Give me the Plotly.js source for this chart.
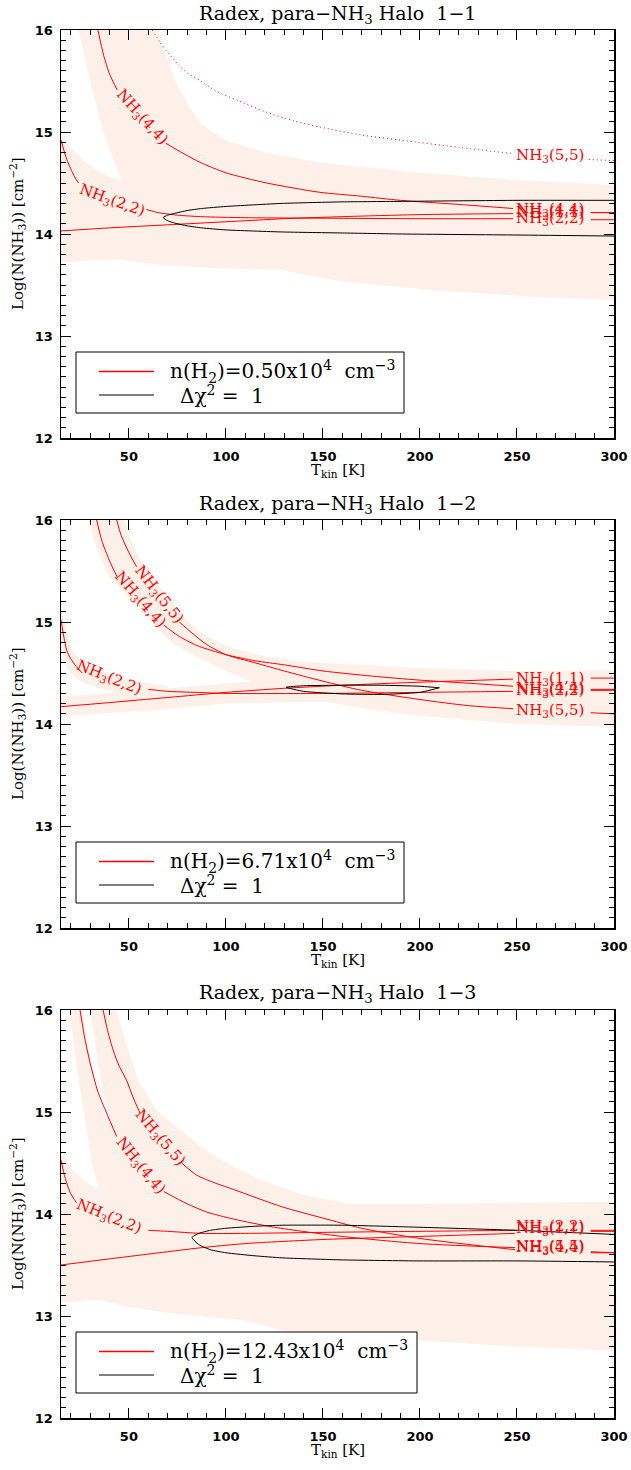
<!DOCTYPE html>
<html><head><meta charset="utf-8">
<script src="https://cdn.plot.ly/plotly-3.0.1.min.js"></script>
<style>html,body{margin:0;padding:0;background:#fff}</style>
</head><body><div id="chart" style="width:631px;height:1470px"></div>
<script>
// ---------------- data ----------------
const panelNames = ['1\u22121', '1\u22122', '1\u22123'];
const densities = ['0.50', '6.71', '12.43'];

// Panel 1 (n = 0.50e4)
const p1_11_T = [15, 40, 70, 100, 130, 160, 200, 248, null, 288, 300];
const p1_11_V = [14.03, 14.06, 14.09, 14.12, 14.15, 14.17, 14.19, 14.20, null, 14.21, 14.21];
const p1_22_T = [15, 16.5, 18, 20, 22, 24, null, 59, 65, 75, 87, 110, 150, 200, 248, null, 288, 300];
const p1_22_V = [14.92, 14.82, 14.73, 14.64, 14.56, 14.5, null, 14.24, 14.21, 14.185, 14.17, 14.16, 14.155, 14.15, 14.15, null, 14.14, 14.14];
const p1_44_T = [34, 37, 40, 44, null, 69, 78, 87, 100, 121, 148, 170, 190, 220, 248, null, 288, 300];
const p1_44_V = [16.0, 15.75, 15.57, 15.41, null, 14.89, 14.79, 14.70, 14.6, 14.5, 14.41, 14.37, 14.33, 14.29, 14.25, null, 14.21, 14.21];
const p1_55_T = [62, 66, 70, 75, 80, 87, 95, 106, 120, 135, 148, 170, 190, 220, 247, null, 287, 300];
const p1_55_V = [16.0, 15.88, 15.78, 15.67, 15.58, 15.5, 15.4, 15.31, 15.2, 15.11, 15.05, 14.97, 14.92, 14.85, 14.79, null, 14.73, 14.72];
const p1_chiT  = [67.6, 70, 73, 80, 87.5, 100, 129, 160, 191, 250, 300];
const p1_chiHi = [14.16, 14.185, 14.2, 14.23, 14.25, 14.27, 14.30, 14.315, 14.32, 14.33, 14.33];
const p1_chiLo = [14.16, 14.13, 14.11, 14.08, 14.06, 14.04, 14.02, 14.01, 14.0, 13.99, 13.98];
const p1_bandA_T = [24, 65, 69, 74, 80, 87, 100, 120, 148, 200, 250, 300, 300, 100, 70, 55, 46.4, 42, 36, 30];
const p1_bandA_V = [16, 16, 15.75, 15.5, 15.28, 15.08, 14.92, 14.8, 14.7, 14.6, 14.53, 14.48, 14.1, 14.1, 14.2, 14.35, 14.53, 14.72, 15.05, 15.5];
const p1_bandB_T = [15, 20, 25, 30, 35, 40, 46.4, 60, 100, 150, 300, 300, 254, 212, 162, 140, 128, 100, 70, 55, 45, 30, 15];
const p1_bandB_V = [14.97, 14.84, 14.75, 14.67, 14.61, 14.56, 14.53, 14.46, 14.4, 14.36, 14.32, 13.35, 13.39, 13.44, 13.53, 13.6, 13.65, 13.66, 13.69, 13.72, 13.75, 13.74, 13.72];
const p1_labelText  = ['(4,4)', '(2,2)', '(5,5)', '(4,4)', '(1,1)', '(2,2)'];
const p1_labelT     = [56.5, 41.5, 267, 267, 267, 267];
const p1_labelV     = [15.15, 14.33, 14.77, 14.24, 14.21, 14.155];
const p1_labelAngle = [48, 20, 0, 0, 0, 0];

// Panel 2 (n = 6.71e4)
const p2_11_T = [15, 40, 70, 100, 130, 160, 200, 248, null, 288, 300];
const p2_11_V = [14.17, 14.21, 14.26, 14.31, 14.35, 14.38, 14.41, 14.44, null, 14.45, 14.45];
const p2_22_T = [15, 16.5, 18, 20, 23, 26, null, 60, 70, 85, 100, 150, 200, 248, null, 288, 300];
const p2_22_V = [15.02, 14.85, 14.72, 14.64, 14.56, 14.5, null, 14.34, 14.32, 14.31, 14.30, 14.30, 14.31, 14.32, null, 14.33, 14.33];
const p2_44_T = [33.4, 36, 40, 44, null, 68, 75, 85, 100, 115, 130, 150, 175, 200, 225, 248, null, 288, 300];
const p2_44_V = [16.0, 15.8, 15.6, 15.44, null, 14.97, 14.87, 14.77, 14.68, 14.62, 14.58, 14.52, 14.47, 14.43, 14.40, 14.37, null, 14.34, 14.34];
const p2_55_T = [43.7, 46, 50, 54, null, 76, 82, 90, 100, 115, 130, 150, 170, 200, 225, 248, null, 288, 300];
const p2_55_V = [16.0, 15.85, 15.68, 15.54, null, 15.0, 14.9, 14.78, 14.68, 14.6, 14.52, 14.42, 14.33, 14.24, 14.18, 14.15, null, 14.11, 14.10];
const p2_chiT  = [131, 140, 160, 180, 200, 210];
const p2_chiHi = [14.36, 14.375, 14.38, 14.38, 14.37, 14.355];
const p2_chiLo = [14.36, 14.32, 14.295, 14.29, 14.31, 14.355];
const p2_bandA_T = [29.5, 47.7, 50, 54, 58, 69, 80, 86, 94, 104, 120, 138, 200, 250, 300, 300, 250, 200, 175, 150, 130, 114, 100, 85, 72, 64, 55, 47, 40, 36, 32];
const p2_bandA_V = [16, 16, 15.85, 15.68, 15.54, 15.27, 15.02, 14.92, 14.82, 14.74, 14.66, 14.61, 14.55, 14.52, 14.51, 13.97, 14.0, 14.08, 14.14, 14.22, 14.3, 14.41, 14.52, 14.66, 14.8, 14.95, 15.15, 15.3, 15.44, 15.6, 15.8];
const p2_bandB_T = [15, 60, 100, 150, 200, 250, 300, 300, 250, 200, 150, 100, 60, 15];
const p2_bandB_V = [14.27, 14.33, 14.4, 14.46, 14.5, 14.52, 14.53, 14.24, 14.24, 14.23, 14.22, 14.2, 14.13, 14.08];
const p2_bandC_T = [15, 16.8, 18.5, 21, 25, 30, 40, 50, 60, 70, 70, 50, 35, 25, 20, 17, 15];
const p2_bandC_V = [15.12, 15.0, 14.85, 14.72, 14.62, 14.55, 14.49, 14.44, 14.4, 14.37, 14.25, 14.28, 14.35, 14.42, 14.5, 14.62, 14.88];
const p2_labelText  = ['(2,2)', '(4,4)', '(5,5)', '(1,1)', '(4,4)', '(2,2)', '(5,5)'];
const p2_labelT     = [39.7, 55.7, 65.5, 267, 267, 267, 267];
const p2_labelV     = [14.46, 15.22, 15.27, 14.45, 14.35, 14.33, 14.13];
const p2_labelAngle = [22, 49, 52, 0, 0, 0, 0];

// Panel 3 (n = 12.43e4)
const p3_11_T = [15, 40, 70, 87.5, 110, 150, 200, 249, null, 288, 300];
const p3_11_V = [13.5, 13.56, 13.63, 13.67, 13.71, 13.75, 13.78, 13.81, null, 13.83, 13.83];
const p3_22_T = [15, 16.5, 18, 20, 23, null, 60, 70, 87.5, 110, 150, 200, 249, null, 288, 300];
const p3_22_V = [14.53, 14.4, 14.3, 14.2, 14.11, null, 13.84, 13.83, 13.81, 13.81, 13.82, 13.83, 13.84, null, 13.84, 13.84];
const p3_44_T = [24.8, 27, 30, 34, 38.5, 43.7, null, 68, 80, 90, 104, 125, 160, 200, 249, null, 288, 300];
const p3_44_V = [16.0, 15.75, 15.48, 15.2, 14.99, 14.76, null, 14.22, 14.1, 14.02, 13.95, 13.87, 13.78, 13.71, 13.67, null, 13.63, 13.62];
const p3_55_T = [36.7, 39, 42, 45, 48.8, 52, 55.7, null, 77.2, 85, 95, 104, 129, 150, 170, 200, 249, null, 288, 300];
const p3_55_V = [16.0, 15.8, 15.6, 15.45, 15.31, 15.15, 14.99, null, 14.5, 14.38, 14.3, 14.24, 14.07, 13.96, 13.86, 13.76, 13.65, null, 13.62, 13.62];
const p3_chiT  = [82.5, 86, 92, 100, 115, 129, 160, 200, 250, 300];
const p3_chiHi = [13.77, 13.81, 13.84, 13.86, 13.88, 13.89, 13.89, 13.87, 13.84, 13.80];
const p3_chiLo = [13.77, 13.7, 13.65, 13.62, 13.59, 13.57, 13.55, 13.54, 13.54, 13.53];
const p3_bandA_T = [19.6, 26, 28.5, 33, 38, 45, 55, 70, 100, 150, 150, 100, 45, 34.5, 31, 28, 25, 22];
const p3_bandA_V = [16, 16, 15.7, 15.25, 14.95, 14.7, 14.45, 14.2, 14.0, 13.9, 13.7, 13.75, 14.0, 14.24, 14.5, 14.85, 15.2, 15.6];
const p3_bandB_T = [30, 43.7, 48, 55, 65, 78, 90, 104, 120, 138, 150, 164, 200, 250, 300, 300, 250, 191, 160, 129, 108, 75, 52, 33.5, 15, 15, 20, 27, 34.5, 40, 36, 33];
const p3_bandB_V = [16, 16, 15.7, 15.3, 15.0, 14.8, 14.62, 14.46, 14.32, 14.2, 14.15, 14.1, 14.1, 14.11, 14.12, 12.66, 12.7, 12.77, 12.8, 12.86, 12.96, 13.02, 13.08, 13.16, 13.13, 14.62, 14.45, 14.32, 14.24, 14.95, 15.25, 15.6];
const p3_labelText  = ['(2,2)', '(4,4)', '(5,5)', '(2,2)', '(1,1)', '(5,5)', '(4,4)'];
const p3_labelT     = [39.7, 56.1, 66, 267, 267, 267, 267];
const p3_labelV     = [13.98, 14.48, 14.75, 13.875, 13.86, 13.68, 13.67];
const p3_labelAngle = [22, 51, 50, 0, 0, 0, 0];

const xTickVals = [50, 100, 150, 200, 250, 300];
const yTickVals = [12, 13, 14, 15, 16];

// ---------------- styling / layout ----------------
const FILL = '#fdf0e8';
const RED = 'rgb(255,0,0)';
const SERIF = 'DejaVu Serif, serif';
const W = 631, H = 1470;
const ML = 61, MR = 17, MT = 30, MB = 52;
const panelTopPx = [30, 520, 1010];
const panelHpx = 408;
const plotH = H - MT - MB;
const legendRightPx = [404, 404, 417];

const panels = [
  {lines: [[p1_11_T, p1_11_V, 'solid'], [p1_22_T, p1_22_V, 'solid'], [p1_44_T, p1_44_V, 'solid'], [p1_55_T, p1_55_V, '1px,3px']],
   chi: [p1_chiT, p1_chiHi, p1_chiLo, false], bands: [[p1_bandA_T, p1_bandA_V], [p1_bandB_T, p1_bandB_V]],
   labels: [p1_labelText, p1_labelT, p1_labelV, p1_labelAngle]},
  {lines: [[p2_11_T, p2_11_V, 'solid'], [p2_22_T, p2_22_V, 'solid'], [p2_44_T, p2_44_V, 'solid'], [p2_55_T, p2_55_V, 'solid']],
   chi: [p2_chiT, p2_chiHi, p2_chiLo, true], bands: [[p2_bandA_T, p2_bandA_V], [p2_bandB_T, p2_bandB_V], [p2_bandC_T, p2_bandC_V]],
   labels: [p2_labelText, p2_labelT, p2_labelV, p2_labelAngle]},
  {lines: [[p3_11_T, p3_11_V, 'solid'], [p3_22_T, p3_22_V, 'solid'], [p3_44_T, p3_44_V, 'solid'], [p3_55_T, p3_55_V, 'solid']],
   chi: [p3_chiT, p3_chiHi, p3_chiLo, false], bands: [[p3_bandA_T, p3_bandA_V], [p3_bandB_T, p3_bandB_V]],
   labels: [p3_labelText, p3_labelT, p3_labelV, p3_labelAngle]}
];

const traces = [];
const annotations = [];
const shapes = [];
const layout = {
  width: W, height: H, margin: {l: ML, r: MR, t: MT, b: MB},
  paper_bgcolor: '#fff', plot_bgcolor: '#fff', showlegend: false, hovermode: false
};

panels.forEach((p, i) => {
  const sfx = i === 0 ? '' : String(i + 1);
  const xa = 'x' + sfx, ya = 'y' + sfx;
  const xd = xa + ' domain', yd = ya + ' domain';
  const top = panelTopPx[i], bot = top + panelHpx;
  const axCommon = {
    showline: true, linecolor: '#000', linewidth: 1.5, mirror: 'ticks',
    ticks: 'inside', ticklen: 10, tickwidth: 1, tickcolor: '#000',
    showgrid: false, zeroline: false, fixedrange: true,
    tickfont: {family: 'DejaVu Sans, sans-serif', size: 13, color: '#000', weight: 700}
  };
  layout['xaxis' + sfx] = Object.assign({}, axCommon, {
    domain: [0, 1], anchor: ya, range: [15, 300], tickmode: 'array', tickvals: xTickVals,
    ticktext: xTickVals.map(String), ticklabelstandoff: 6,
    minor: {dtick: 10, tick0: 0, ticks: 'inside', ticklen: 5, tickcolor: '#000', tickwidth: 1, showgrid: false}
  });
  layout['yaxis' + sfx] = Object.assign({}, axCommon, {
    domain: [(H - MB - bot) / plotH, (H - MB - top) / plotH], anchor: xa, range: [12, 16],
    tickmode: 'array', tickvals: yTickVals, ticktext: yTickVals.map(String), ticklabelstandoff: 4,
    minor: {dtick: 0.1, tick0: 0, ticks: 'inside', ticklen: 5, tickcolor: '#000', tickwidth: 1, showgrid: false}
  });

  // shaded bands
  p.bands.forEach(b => {
    traces.push({type: 'scatter', mode: 'lines', x: b[0].concat([b[0][0]]), y: b[1].concat([b[1][0]]),
      fill: 'toself', fillcolor: FILL, line: {width: 0, color: FILL}, xaxis: xa, yaxis: ya, hoverinfo: 'skip'});
  });
  // model lines
  p.lines.forEach(l => {
    traces.push({type: 'scatter', mode: 'lines', x: l[0], y: l[1], connectgaps: false,
      line: {color: RED, width: 1, dash: l[2], shape: 'spline', smoothing: 0.7}, xaxis: xa, yaxis: ya});
  });
  // delta chi^2 = 1 contour
  const [cT, cHi, cLo, closed] = p.chi;
  let cx, cy;
  if (closed) {
    cx = cT.concat(cT.slice().reverse());
    cy = cHi.concat(cLo.slice().reverse());
  } else {
    cx = cT.slice().reverse().concat(cT.slice(1));
    cy = cHi.slice().reverse().concat(cLo.slice(1));
  }
  traces.push({type: 'scatter', mode: 'lines', x: cx, y: cy,
    line: {color: '#000', width: 1, shape: 'spline', smoothing: 0.5}, xaxis: xa, yaxis: ya});

  // line labels
  const [lt, lT, lV, lA] = p.labels;
  lt.forEach((t, k) => {
    annotations.push({xref: xa, yref: ya, x: lT[k], y: lV[k], text: 'NH<sub>3</sub>' + t, showarrow: false,
      textangle: lA[k], xanchor: 'center', yanchor: 'middle',
      font: {family: SERIF, size: 15, color: RED}});
  });

  // panel title
  annotations.push({xref: xd, yref: yd, x: 0.5, y: 1, yshift: 16, xanchor: 'center', yanchor: 'middle',
    showarrow: false, text: 'Radex, para\u2212NH<sub>3</sub> Halo\u00a0 ' + panelNames[i],
    font: {family: SERIF, size: 19, color: '#000'}});
  // axis titles
  annotations.push({xref: xd, yref: yd, x: 0, xshift: -44, y: 0.5, textangle: -90, xanchor: 'center', yanchor: 'middle',
    showarrow: false, text: 'Log(N(NH<sub>3</sub>)) [cm<sup>\u22122</sup>]',
    font: {family: SERIF, size: 15, color: '#000'}});
  annotations.push({xref: xd, yref: yd, x: 0.5, y: 0, yshift: -32, xanchor: 'center', yanchor: 'middle',
    showarrow: false, text: 'T<sub>kin</sub> [K]', font: {family: SERIF, size: 15, color: '#000'}});

  // legend box (drawn)
  const fx = px => (px - ML) / 553;
  const fy = py => (bot - (py + 490 * i)) / panelHpx;
  shapes.push({type: 'rect', xref: xd, yref: yd, x0: fx(76), x1: fx(legendRightPx[i]), y0: fy(352), y1: fy(413),
    line: {color: '#000', width: 1}, fillcolor: '#fff', layer: 'above'});
  shapes.push({type: 'line', xref: xd, yref: yd, x0: fx(99), x1: fx(154), y0: fy(371.5), y1: fy(371.5),
    line: {color: RED, width: 1.5}, layer: 'above'});
  shapes.push({type: 'line', xref: xd, yref: yd, x0: fx(99), x1: fx(154), y0: fy(395), y1: fy(395),
    line: {color: '#000', width: 1}, layer: 'above'});
  annotations.push({xref: xd, yref: yd, x: fx(168), y: fy(371.5), xanchor: 'left', yanchor: 'middle', showarrow: false,
    text: 'n(H<sub>2</sub>)=' + densities[i] + 'x10<sup>4</sup>\u00a0 cm<sup>\u22123</sup>',
    font: {family: SERIF, size: 20, color: '#000'}});
  annotations.push({xref: xd, yref: yd, x: fx(178), y: fy(395), xanchor: 'left', yanchor: 'middle', showarrow: false,
    text: '\u0394\u03c7<sup>2</sup> =\u00a0 1', font: {family: SERIF, size: 20, color: '#000'}});
});

layout.annotations = annotations;
layout.shapes = shapes;
Plotly.newPlot('chart', traces, layout, {displayModeBar: false, staticPlot: true});
</script>
</body></html>
